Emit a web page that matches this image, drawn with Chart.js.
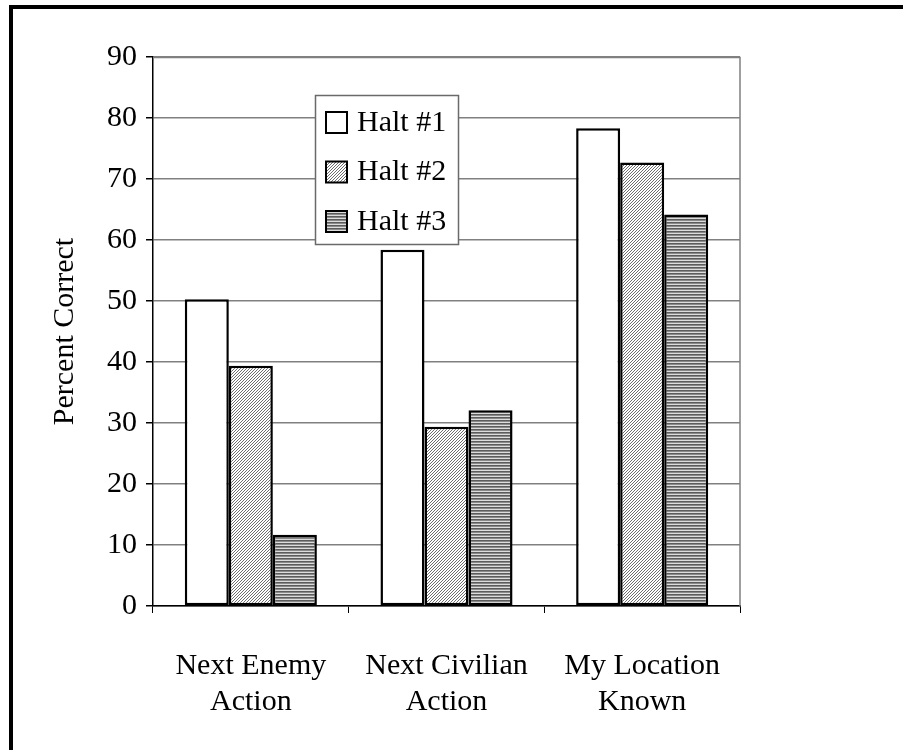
<!DOCTYPE html>
<html>
<head>
<meta charset="utf-8">
<script src="https://cdn.jsdelivr.net/npm/chart.js@4/dist/chart.umd.min.js"></script>
<style>
  html, body { margin: 0; padding: 0; background: #fff; }
  #wrap { width: 903px; height: 750px; position: relative; }
</style>
</head>
<body>
<div id="wrap"><canvas id="c" width="903" height="750"></canvas></div>
<script>
// Categories (multi-line labels) and series
const categories = [['Next Enemy', 'Action'], ['Next Civilian', 'Action'], ['My Location', 'Known']];
const seriesNames = ['Halt #1', 'Halt #2', 'Halt #3'];
const halt1 = [50.3, 58.4, 78.3];
const halt2 = [39.4, 29.4, 72.7];
const halt3 = [11.7, 32.1, 64.2];
const yMin = 0, yMax = 90, yStep = 10;
const yTitle = 'Percent Correct';

const FONT = "'Liberation Serif', 'Times New Roman', serif";

// Fill patterns: plain white, fine diagonal hatch, horizontal stripes
function makePattern(w, h, paint) {
  const c = document.createElement('canvas');
  c.width = w; c.height = h;
  const g = c.getContext('2d');
  paint(g, w, h);
  return document.getElementById('c').getContext('2d').createPattern(c, 'repeat');
}
const diagHatch = makePattern(3, 3, (g, w, h) => {
  g.fillStyle = '#ffffff'; g.fillRect(0, 0, w, h);
  g.fillStyle = '#6e6e6e';
  for (let i = 0; i < 3; i++) g.fillRect(2 - i, i, 1, 1);
});
const hStripes = makePattern(3, 3, (g, w, h) => {
  g.fillStyle = '#5c5c5c'; g.fillRect(0, 0, w, 1);
  g.fillStyle = '#8a8a8a'; g.fillRect(0, 1, w, 1);
  g.fillStyle = '#dcdcdc'; g.fillRect(0, 2, w, 1);
});
const fills = ['#ffffff', diagHatch, hStripes];
const seriesValues = [halt1, halt2, halt3];

// Outer frame, plot-area border and the boxed legend
const decor = {
  id: 'decor',
  beforeDatasetsDraw(chart) {
    const { ctx, chartArea: a } = chart;
    ctx.save();
    ctx.strokeStyle = '#808080';
    ctx.lineWidth = 1.5;
    ctx.beginPath();
    ctx.moveTo(a.left, a.top + 0.5);
    ctx.lineTo(a.right, a.top + 0.5);
    ctx.lineTo(a.right, a.bottom);
    ctx.stroke();
    ctx.restore();
  },
  afterDraw(chart) {
    const { ctx, chartArea: a } = chart;
    ctx.save();
    // frame
    ctx.strokeStyle = '#000';
    ctx.lineWidth = 4;
    ctx.strokeRect(11, 7, 1200, 1200);
    // legend box
    const bx = a.left + 162, by = a.top + 38, bw = 143, bh = 149;
    ctx.fillStyle = '#fff';
    ctx.fillRect(bx, by, bw, bh);
    ctx.strokeStyle = '#6a6a6a';
    ctx.lineWidth = 1.5;
    ctx.strokeRect(bx + 0.5, by + 0.5, bw, bh);
    ctx.font = '30px ' + FONT;
    ctx.textBaseline = 'middle';
    ctx.fillStyle = '#000';
    chart.data.datasets.forEach((ds, i) => {
      const cy = by + 27 + i * 49.5;
      ctx.fillStyle = ds.backgroundColor;
      ctx.fillRect(bx + 11, cy - 10, 21, 21);
      ctx.strokeStyle = '#000';
      ctx.lineWidth = 2;
      ctx.strokeRect(bx + 11, cy - 10, 21, 21);
      ctx.fillStyle = '#000';
      ctx.fillText(ds.label, bx + 42, cy + 1);
    });
    ctx.restore();
  }
};

new Chart(document.getElementById('c'), {
  type: 'bar',
  data: {
    labels: categories,
    datasets: seriesNames.map((name, i) => ({
      label: name,
      data: seriesValues[i],
      backgroundColor: fills[i],
      borderColor: '#000',
      borderWidth: 2.5,
      borderSkipped: false,
      categoryPercentage: 0.675,
      barPercentage: 1.0
    }))
  },
  options: {
    responsive: false,
    animation: false,
    devicePixelRatio: 1,
    layout: { padding: { left: 0, top: 57, right: 163, bottom: 0 } },
    plugins: { legend: { display: false }, tooltip: { enabled: false } },
    scales: {
      x: {
        grid: { drawOnChartArea: false, drawTicks: true, tickLength: 7, tickColor: '#000', offset: true },
        border: { color: '#000', width: 1.5 },
        ticks: { color: '#000', font: { family: FONT, size: 30, lineHeight: 1.17 }, padding: 36, maxRotation: 0 },
        afterFit(s) { s.height = 144; }
      },
      y: {
        min: yMin, max: yMax,
        grid: { color: '#808080', lineWidth: 1.5, tickColor: '#000', tickLength: 7 },
        border: { color: '#000', width: 1.5 },
        ticks: { stepSize: yStep, color: '#000', font: { family: FONT, size: 30 }, padding: 9 },
        title: { display: true, text: yTitle, color: '#000', font: { family: FONT, size: 30, lineHeight: 1.2 }, padding: { top: 47, bottom: 0 } },
        afterFit(s) { s.width = 153; }
      }
    }
  },
  plugins: [decor]
});
</script>
</body>
</html>
